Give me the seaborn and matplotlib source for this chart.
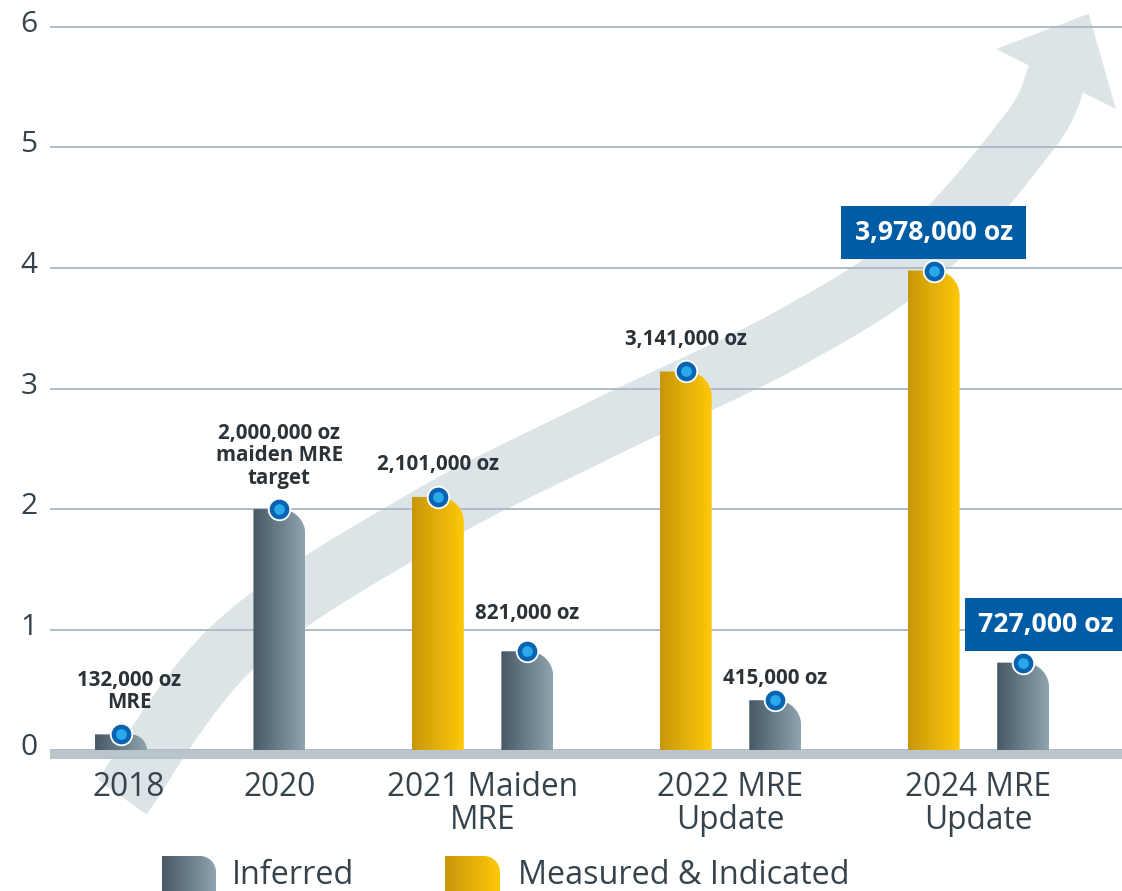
import numpy as np
import pandas as pd
import matplotlib
matplotlib.use("Agg")
import matplotlib.pyplot as plt
import matplotlib.transforms as mtransforms
from matplotlib.colors import LinearSegmentedColormap
from matplotlib.patches import PathPatch, Polygon
from matplotlib.path import Path
import seaborn as sns

# ---- data (million oz) ----
categories = ["2018", "2020", "2021 Maiden\nMRE", "2022 MRE\nUpdate", "2024 MRE\nUpdate"]
measured_indicated = [np.nan, np.nan, 2.101, 3.141, 3.978]
inferred = [0.132, 2.000, 0.821, 0.415, 0.727]
mi_labels = [None, None, "2,101,000 oz", "3,141,000 oz", "3,978,000 oz"]
inf_labels = ["132,000 oz\nMRE", "2,000,000 oz\nmaiden MRE\ntarget",
              "821,000 oz", "415,000 oz", "727,000 oz"]
highlight = [False, False, False, False, True]
series_names = ["Measured & Indicated", "Inferred"]
y_ticks = [0, 1, 2, 3, 4, 5, 6]

# ---- styling ----
W, H, DPI = 1122, 891, 100
TEXT = "#36434c"
LABEL = "#2b3238"
BOX = "#005ca5"
GRID = "#aebcc4"
ARROW = "#dde4e8"
grad_colors = {"Inferred": ["#465864", "#8fa4ae"],
               "Measured & Indicated": ["#c8960b", "#ffc908"]}
GAP = 1.77  # spacing between groups, in bar slots

sns.set_style("white")
plt.rcParams["font.family"] = ["Open Sans", "DejaVu Sans"]

# build long table with bar slots
rows, centers, pos = [], [], 0.0
for i, cat in enumerate(categories):
    group = []
    for name, vals, labs in zip(series_names, [measured_indicated, inferred], [mi_labels, inf_labels]):
        if not np.isnan(vals[i]):
            group.append(dict(category=cat, series=name, value=vals[i],
                              label=labs[i], hl=highlight[i], pos=pos))
            pos += 1.0
    centers.append(np.mean([g["pos"] for g in group]))
    rows += group
    pos += GAP - 1.0
df = pd.DataFrame(rows)

fig = plt.figure(figsize=(W / DPI, H / DPI), dpi=DPI)

# background layer in pixel coords (arrow + legend)
bg = fig.add_axes([0, 0, 1, 1], zorder=0)
bg.set_xlim(0, W)
bg.set_ylim(H, 0)
bg.axis("off")


def catmull_rom(p, n=20):
    # smooth decorative outline through guide points
    p = np.vstack([p[0], p, p[-1]])
    out = []
    for i in range(1, len(p) - 2):
        p0, p1, p2, p3 = p[i - 1], p[i], p[i + 1], p[i + 2]
        for t in np.linspace(0, 1, n, endpoint=False):
            t2, t3 = t * t, t * t * t
            out.append(0.5 * ((2 * p1) + (-p0 + p2) * t + (2 * p0 - 5 * p1 + 4 * p2 - p3) * t2
                              + (-p0 + 3 * p1 - 3 * p2 + p3) * t3))
    out.append(p[-2])
    return np.array(out)


# big rising arrow (decoration)
guide = np.array([(122, 797), (235, 645), (420, 522), (600, 430), (790, 338),
                  (925, 250), (1030, 131), (1056, 79)], float)
center = catmull_rom(guide)
tang = np.gradient(center, axis=0)
tang /= np.linalg.norm(tang, axis=1)[:, None]
d = guide[-1] - guide[-2]
d /= np.linalg.norm(d)
tang[-1] = d
norm = np.column_stack([-tang[:, 1], tang[:, 0]])
hw = 30
left = center + norm * hw
right = center - norm * hw
n, c = norm[-1], center[-1]
head = [c + n * 67, c + d * 73, c - n * 67]
pts = np.vstack([left, head, right[::-1]])
bg.add_patch(Polygon(pts, closed=True, facecolor=ARROW, edgecolor="none"))

# main axes
ax_left, ax_right = 50, W
ax_top, ax_bot = 0, 760
y0px, unit_px = 750.3, 120.6
slot_px, first_px = 89.5, 121
ax = fig.add_axes([ax_left / W, (H - ax_bot) / H, (ax_right - ax_left) / W, (ax_bot - ax_top) / H], zorder=1)
ax.patch.set_alpha(0)

palette = {k: v[1] for k, v in grad_colors.items()}
sns.barplot(data=df, x="pos", y="value", hue="series", native_scale=True, dodge=False,
            orient="x", width=0.58, palette=palette, legend=False, ax=ax)

xlim = ((ax_left - first_px) / slot_px, (ax_right - first_px) / slot_px)
ylim = (-(ax_bot - y0px) / unit_px, (y0px - ax_top) / unit_px)

grad = np.linspace(0, 1, 256).reshape(1, -1)
k = 0.5523
rpx = 25


def rounded_path(x0, x1, ybase, top, rx, ry):
    verts = [(x0, ybase), (x0, top), (x1 - rx, top), (x1 - rx + k * rx, top),
             (x1, top - ry + k * ry), (x1, top - ry), (x1, ybase), (x0, ybase)]
    codes = [Path.MOVETO, Path.LINETO, Path.LINETO, Path.CURVE4, Path.CURVE4,
             Path.CURVE4, Path.LINETO, Path.CLOSEPOLY]
    return Path(verts, codes)


for p in list(ax.patches):
    x0, w, h = p.get_x(), p.get_width(), p.get_height()
    if not np.isfinite(h) or h <= 0:
        continue
    p.set_visible(False)
    row = df.iloc[(df["pos"] - (x0 + w / 2)).abs().argmin()]
    ry = rpx / unit_px
    rx = rpx / slot_px
    scale = min(1.0, h / ry)
    path = rounded_path(x0, x0 + w, 0, h, rx * scale, ry * scale)
    clip = PathPatch(path, transform=ax.transData, facecolor="none", edgecolor="none")
    cmap = LinearSegmentedColormap.from_list("g", grad_colors[row["series"]])
    im = ax.imshow(grad, cmap=cmap, extent=(x0, x0 + w, 0, h), aspect="auto",
                   origin="lower", zorder=2, interpolation="bicubic")
    im.set_clip_path(clip)

# blue markers on bar tops
ax.scatter(df["pos"], df["value"], s=240, color="#0a63ae", edgecolor="white",
           linewidth=1.3, zorder=4)
ax.scatter(df["pos"], df["value"], s=60, color="#2aa8ec", linewidth=0, zorder=5)

# baseline band
ax.axhspan(-9 / unit_px, 0, color="#b9c4cb", zorder=3, lw=0)

# value labels
gap_px = {"132,000 oz\nMRE": 21, "2,000,000 oz\nmaiden MRE\ntarget": 20,
          "2,101,000 oz": 22, "821,000 oz": 27, "3,141,000 oz": 21, "415,000 oz": 11}
pt = 72 / DPI
for _, r in df.iterrows():
    if r["label"] is None:
        continue
    if r["hl"]:
        dx = 0 if r["series"] == "Measured & Indicated" else 23
        ax.annotate(r["label"], (r["pos"], r["value"]), xytext=(dx * pt, 38 * pt),
                    textcoords="offset points", ha="center", va="center",
                    fontsize=19.2, fontweight="bold", color="white", zorder=6,
                    bbox=dict(boxstyle="square,pad=0.5", fc=BOX, ec="none"))
    else:
        ax.annotate(r["label"], (r["pos"], r["value"]), xytext=(8 * pt if r["pos"] == 0 else 0,
                    gap_px.get(r["label"], 21) * pt),
                    textcoords="offset points", ha="center", va="bottom",
                    fontsize=14.8, fontweight="bold", color=LABEL, zorder=6,
                    linespacing=1.1, multialignment="center")

ax.set_xlim(*xlim)
ax.set_ylim(*ylim)
ax.set_yticks(y_ticks)
ax.set_yticklabels([str(t) for t in y_ticks])
ax.set_xticks(centers)
ax.set_xticklabels(categories)
ax.yaxis.grid(True, color=GRID, linewidth=1.4, zorder=0.5)
ax.xaxis.grid(False)
ax.set_axisbelow(True)
ax.set_xlabel("")
ax.set_ylabel("")
for s in ax.spines.values():
    s.set_visible(False)
ax.tick_params(axis="y", length=0, pad=9, labelsize=21.5, labelcolor=TEXT)
ax.tick_params(axis="x", length=0, pad=8, labelsize=22.8, labelcolor=TEXT)
shift = mtransforms.ScaledTranslation(0, 6 / DPI, fig.dpi_scale_trans)
for t in ax.get_yticklabels():
    t.set_transform(t.get_transform() + shift)
for t in ax.get_xticklabels():
    t.set_linespacing(0.98)
# the first category label sits slightly right of its bar
first = ax.get_xticklabels()[0]
first.set_transform(first.get_transform() + mtransforms.ScaledTranslation(8 / DPI, 0, fig.dpi_scale_trans))

# legend at the bottom
legend_items = [("Inferred", 162, 216, 232), ("Measured & Indicated", 445, 500, 518)]
for name, sx0, sx1, tx in legend_items:
    sp = rounded_path(sx0, sx1, 900, 856, 16, -16)
    clip = PathPatch(sp, transform=bg.transData, facecolor="none", edgecolor="none")
    cmap = LinearSegmentedColormap.from_list("g", grad_colors[name])
    im = bg.imshow(grad, cmap=cmap, extent=(sx0, sx1, 900, 856), aspect="auto",
                   origin="lower", interpolation="bicubic")
    im.set_clip_path(clip)
    bg.text(tx, 884, name, fontsize=23.3, color=TEXT, va="baseline", ha="left")
bg.set_xlim(0, W)
bg.set_ylim(H, 0)

fig.savefig("out.png", dpi=DPI)
